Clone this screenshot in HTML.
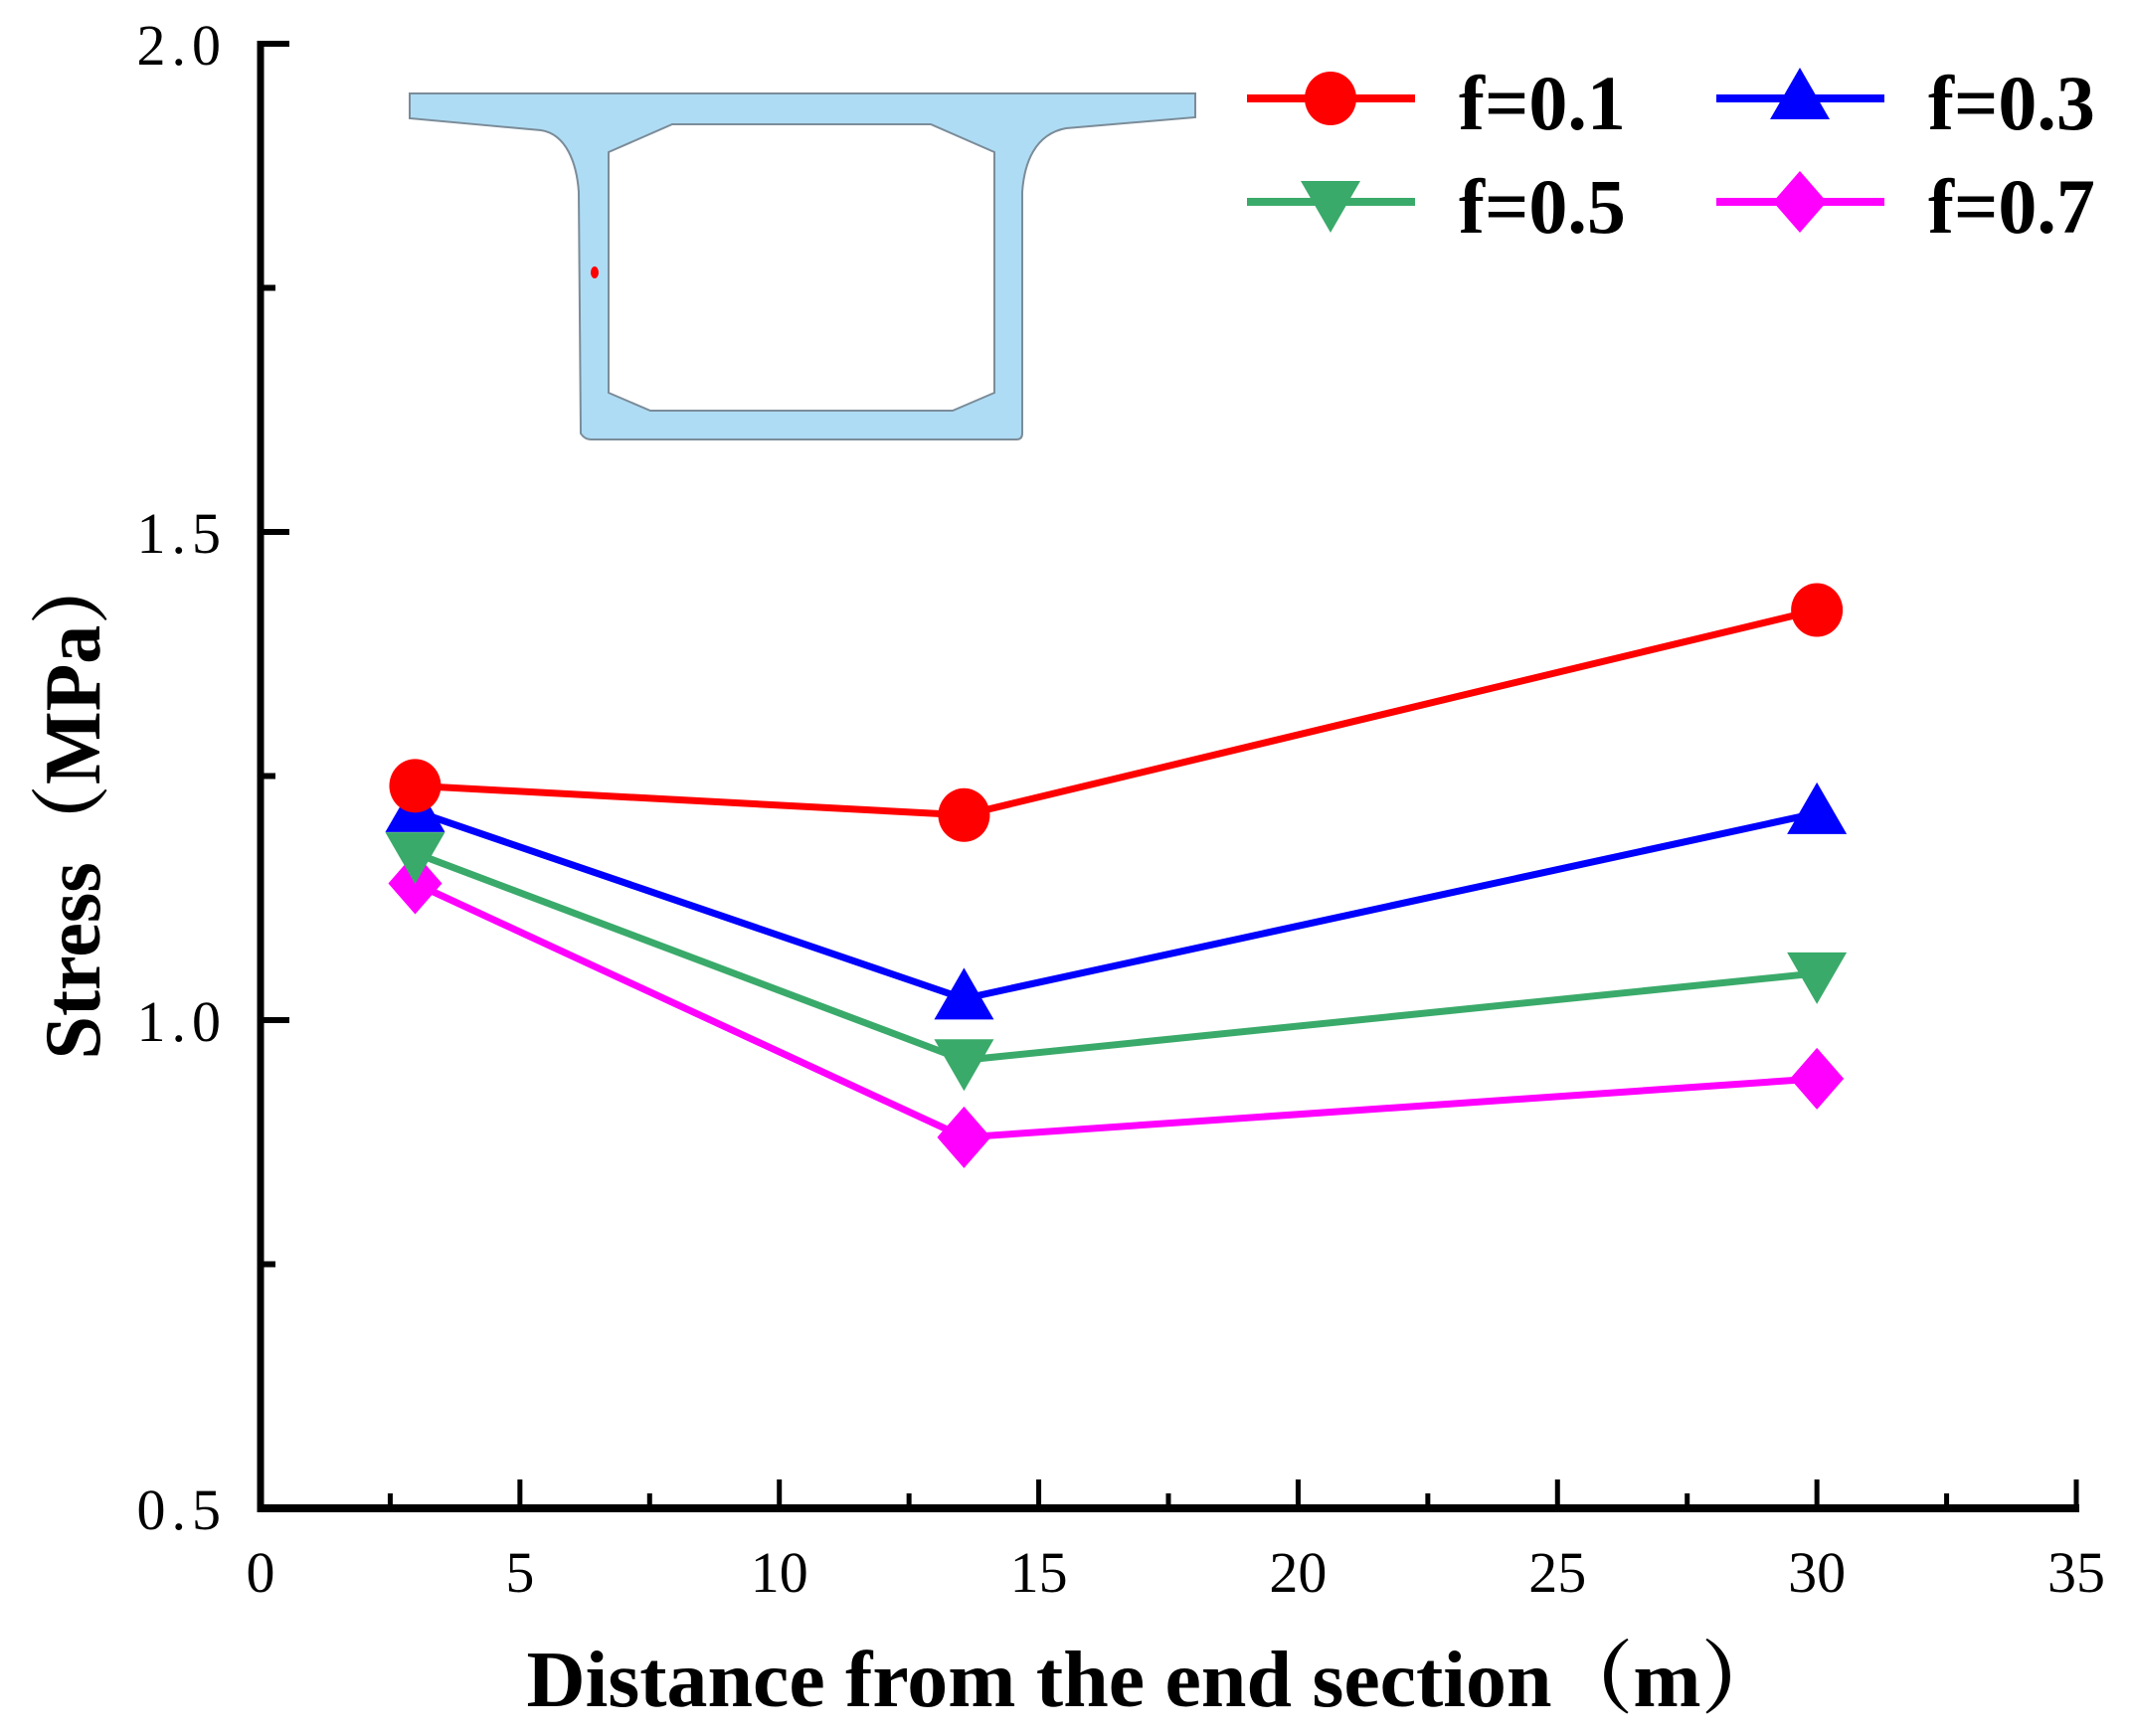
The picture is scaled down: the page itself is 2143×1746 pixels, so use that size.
<!DOCTYPE html>
<html><head><meta charset="utf-8"><style>
html,body{margin:0;padding:0;background:#fff;}
svg{display:block;}
text{font-family:"Liberation Serif","Noto Serif CJK SC",serif;}
</style></head><body>
<svg id="chart" width="2143" height="1746" viewBox="0 0 2143 1746" xmlns="http://www.w3.org/2000/svg">
<g id="inset">
<path fill="#aedcf4" stroke="#7b8c99" stroke-width="2" fill-rule="evenodd"
d="M412,94 L1202,94 L1202,118 L1072,129 C1040,135 1030,165 1028,193 L1028,436 Q1028,442 1022,442 L594,442 Q588,442 584,436 L582,193 C580,165 570,135 544,131 L412,119 Z
M676,125 L936,125 L1000,153 L1000,395 L958,413 L654,413 L612,395 L612,153 Z"/>
<ellipse cx="598" cy="274" rx="4" ry="6" fill="#ff0000"/>
</g>
<g id="axes"></g>
<g id="series"></g>
<g id="legend"></g>
<text x="1161" y="1716" text-anchor="middle" font-size="80" font-weight="bold" textLength="1263" lengthAdjust="spacingAndGlyphs">Distance from the end section（m）</text>
<text transform="translate(100,808) rotate(-90)" text-anchor="middle" font-size="80" font-weight="bold" textLength="515" lengthAdjust="spacingAndGlyphs">Stress（MPa）</text>
</svg>
<script>
const xTicks = [0,5,10,15,20,25,30,35];
const yTicks = [0.5,1.0,1.5,2.0];
const yTickLabels = ["0.5","1.0","1.5","2.0"];
const xValues = [2.98, 13.56, 30.0];
const seriesNames = ["f=0.1","f=0.3","f=0.5","f=0.7"];
const seriesF01 = [1.240, 1.210, 1.420];
const seriesF03 = [1.214, 1.022, 1.212];
const seriesF05 = [1.171, 0.959, 1.048];
const seriesF07 = [1.140, 0.880, 0.940];

const NS="http://www.w3.org/2000/svg";
const X0=262,X1=2088,Y0=1517,Y1=44;
const xMin=0,xMax=35,yMin=0.5,yMax=2.0;
function sx(v){return X0+(v-xMin)/(xMax-xMin)*(X1-X0);}
function sy(v){return Y0-(v-yMin)/(yMax-yMin)*(Y0-Y1);}
function mk(tag,attrs,parent){const e=document.createElementNS(NS,tag);for(const k in attrs)e.setAttribute(k,attrs[k]);parent.appendChild(e);return e;}
const axes=document.getElementById('axes');
let el;
el=mk('line',{x1:X0,y1:Y1-3,x2:X0,y2:Y0+4,stroke:'#000','stroke-width':7},axes);


el=mk('line',{x1:X0-3,y1:Y0,x2:X1+3,y2:Y0,stroke:'#000','stroke-width':8},axes);


for(let i=0;i<xTicks.length;i++){
  const v=xTicks[i];
  el=mk('line',{x1:sx(v),y1:Y0,x2:sx(v),y2:Y0-29,stroke:'#000','stroke-width':5},axes);
  
  
  el=mk('text',{x:sx(v),y:1601,'text-anchor':'middle','font-size':58},axes);
  el.textContent=String(v);
  
  
  if(i<xTicks.length-1){
    const m=(xTicks[i]+xTicks[i+1])/2;
    el=mk('line',{x1:sx(m),y1:Y0,x2:sx(m),y2:Y0-15,stroke:'#000','stroke-width':5},axes);
    
    
  }
}
for(let i=0;i<yTicks.length;i++){
  const v=yTicks[i];
  el=mk('line',{x1:X0,y1:sy(v),x2:X0+29,y2:sy(v),stroke:'#000','stroke-width':6},axes);
  
  
  el=mk('text',{x:228,y:sy(v)+21,'text-anchor':'end','font-size':58,'letter-spacing':'6'},axes);
  el.textContent=yTickLabels[i];
  
  
  if(i<yTicks.length-1){
    const m=(yTicks[i]+yTicks[i+1])/2;
    el=mk('line',{x1:X0,y1:sy(m),x2:X0+15,y2:sy(m),stroke:'#000','stroke-width':6},axes);
    
    
  }
}
function marker(type,cx,cy,color,parent){
  let e;
  if(type==='circle') e=mk('ellipse',{cx:cx,cy:cy,rx:26,ry:27,fill:color},parent);
  else if(type==='up') e=mk('polygon',{points:`${cx},${cy-31} ${cx-30},${cy+21} ${cx+30},${cy+21}`,fill:color},parent);
  else if(type==='down') e=mk('polygon',{points:`${cx},${cy+31} ${cx-30},${cy-21} ${cx+30},${cy-21}`,fill:color},parent);
  else e=mk('polygon',{points:`${cx},${cy-31} ${cx+27},${cy} ${cx},${cy+31} ${cx-27},${cy}`,fill:color},parent);
  return e;
}
const seriesData=[seriesF01,seriesF03,seriesF05,seriesF07];
const colors=['#ff0000','#0000ff','#3aaa6a','#ff00ff'];
const types=['circle','up','down','diamond'];
const sg=document.getElementById('series');
const drawOrder=[3,2,1,0];
for(const s of drawOrder){
  const vals=seriesData[s];
  const pts=vals.map((v,i)=>sx(xValues[i])+','+sy(v)).join(' ');
  el=mk('polyline',{points:pts,fill:'none',stroke:colors[s],'stroke-width':7},sg);
  
  
  for(let i=0;i<vals.length;i++){
    el=marker(types[s],sx(xValues[i]),sy(vals[i]),colors[s],sg);
    
    
  }
}
const lg=document.getElementById('legend');
const lx=[1254,1726,1254,1726], ly=[99,99,203,203], order=[0,1,2,3];
for(let k=0;k<4;k++){
  const s=order[k];
  const g=mk('g',{},lg);
  
  
  mk('line',{x1:lx[k],y1:ly[k],x2:lx[k]+169,y2:ly[k],stroke:colors[s],'stroke-width':8},g);
  marker(types[s],lx[k]+84,ly[k],colors[s],g);
  const t=mk('text',{x:lx[k]+213,y:ly[k]+31,'font-size':78,'font-weight':'bold'},g);
  t.textContent=seriesNames[s];
}
</script>
</body></html>
